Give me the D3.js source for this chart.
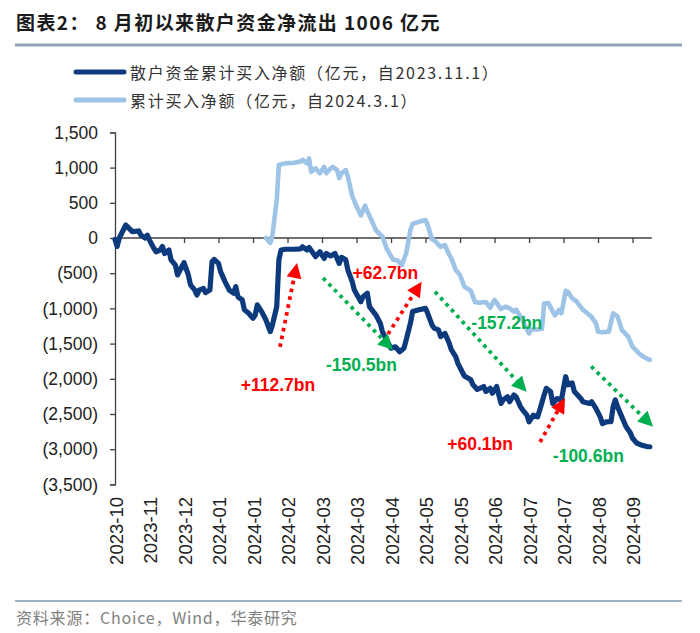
<!DOCTYPE html>
<html><head><meta charset="utf-8">
<script src="https://cdn.jsdelivr.net/npm/d3@7"></script>
<style>body{margin:0;background:#fff}svg{display:block}</style>
</head><body>
<svg id="chart" width="700" height="633"></svg>
<script>
// ---- data ----
const tickLabels = ["2023-10","2023-11","2023-12","2024-01","2024-01","2024-02","2024-03","2024-03","2024-04","2024-05","2024-05","2024-06","2024-07","2024-07","2024-08","2024-09"];
const tickStep = 16; // trading days between labels
const yTicks = [1500,1000,500,0,-500,-1000,-1500,-2000,-2500,-3000,-3500];

const darkIdx = [0,1,2,5,8,11,12,14,15,16,18,19,21,22,23,25,26,28,29,31,32,34,35,37,38,39,41,42,44,45,46,48,49,51,53,55,56,57,59,60,62,64,65,66,68,70,72,73,75,76,77,79,83,86,87,89,90,92,93,95,97,98,100,102,104,105,107,108,110,111,114,115,117,118,121,123,124,126,128,130,132,134,135,137,138,141,144,145,147,148,150,151,153,155,156,158,159,162,165,166,168,171,172,174,175,177,179,180,182,183,185,186,188,189,191,192,194,196,197,199,200,202,203,205,207,209,210,212,213,216,217,220,221,223,225,226,228,230,231,232,233,235,237,239,240,242,244,247,248];
const darkVal = [-20,-120,0,185,90,100,40,0,40,-30,-145,-195,-170,-120,-220,-170,-310,-385,-525,-405,-350,-525,-665,-740,-810,-740,-715,-775,-740,-335,-305,-360,-480,-620,-740,-785,-690,-835,-880,-1020,-1070,-1140,-1095,-950,-1045,-1165,-1330,-1235,-975,-310,-170,-160,-160,-155,-125,-170,-135,-220,-265,-195,-290,-220,-255,-220,-360,-275,-310,-455,-620,-740,-905,-835,-785,-975,-1095,-1210,-1330,-1450,-1565,-1545,-1615,-1565,-1450,-1210,-1045,-1020,-1000,-1070,-1235,-1280,-1305,-1400,-1355,-1495,-1590,-1685,-1780,-1960,-2015,-2085,-2150,-2110,-2180,-2135,-2205,-2110,-2350,-2300,-2255,-2325,-2230,-2255,-2395,-2440,-2515,-2610,-2515,-2540,-2440,-2230,-2135,-2180,-2350,-2280,-2300,-1970,-2085,-2060,-2180,-2280,-2325,-2350,-2325,-2420,-2540,-2635,-2610,-2610,-2395,-2300,-2395,-2540,-2680,-2770,-2845,-2915,-2940,-2965,-2965];

const lightIdx = [70,72,73,75,76,79,83,86,87,89,90,91,93,95,97,98,100,101,103,104,105,107,108,110,112,114,116,117,119,121,124,126,129,131,133,135,137,138,141,144,145,147,148,151,153,155,156,158,160,162,165,167,169,172,174,176,179,181,183,185,186,189,190,192,193,196,198,199,201,203,204,206,207,209,210,212,214,217,219,221,223,224,226,229,231,233,235,238,240,243,245,247,248];
const lightVal = [0,-70,40,540,1040,1060,1070,1085,1110,1060,1130,940,990,920,1010,920,990,1010,965,850,920,965,870,600,450,320,460,380,250,110,20,-150,-310,-320,-385,-220,115,200,230,255,185,-20,-30,-125,-100,-240,-290,-455,-525,-690,-750,-910,-920,-910,-990,-880,-1010,-975,-1000,-1045,-1020,-1160,-1235,-1355,-1300,-1300,-1290,-930,-925,-1045,-1100,-1020,-1070,-750,-765,-855,-900,-1020,-1070,-1120,-1210,-1330,-1340,-1330,-1070,-1110,-1305,-1400,-1545,-1640,-1685,-1720,-1730];

const seriesNames = ["散户资金累计买入净额（亿元，自2023.11.1）","累计买入净额（亿元，自2024.3.1）"];

// annotations in data space: [fromIdx, fromVal, toIdx, toVal]
const upArrows = [[76.5,-1548,84.4,-355],[126.6,-1363,142.2,-620],[197.1,-2897,208.7,-2272]];
const downArrows = [[96.5,-568,128.9,-1590],[148.4,-763,190.9,-2183],[220.8,-1825,249.5,-2680]];
const upLabels = [["+112.7bn",75.6,-2087],["+62.7bn",125.4,-501],["+60.1bn",169.3,-2925]];
const downLabels = [["-150.5bn",114.3,-1803],["-157.2bn",181.7,-1203],["-100.6bn",219.5,-3096]];

const title = "图表2：  8 月初以来散户资金净流出 1006 亿元";
const source = "资料来源：Choice，Wind，华泰研究";

// ---- drawing ----
const svg = d3.select("#chart");
const DARK = "#0c3a7d", LIGHT = "#9dc3e6", RED = "#ff0000", GREEN = "#00b050";
const x = d3.scaleLinear().domain([0, 248]).range([115, 649.8]);
const y = d3.scaleLinear().domain([-3500, 1500]).range([484.4, 132.4]);

// title
svg.append("text").attr("x", 16).attr("y", 21).attr("dominant-baseline","central")
  .attr("font-family","'Noto Sans CJK SC', sans-serif").attr("font-weight",700)
  .attr("font-size",19).attr("letter-spacing",1.4).attr("fill","#1a1a1a").text(title);
svg.append("line").attr("x1",15).attr("x2",682).attr("y1",45).attr("y2",45)
  .attr("stroke","#8ea3b7").attr("stroke-width",3);

// legend
[[DARK,72],[LIGHT,100]].forEach(([c,yy],i)=>{
  svg.append("line").attr("x1",76).attr("x2",124).attr("y1",yy).attr("y2",yy)
    .attr("stroke",c).attr("stroke-width",5).attr("stroke-linecap","round");
  svg.append("text").attr("x",130).attr("y",yy).attr("dominant-baseline","central")
    .attr("font-family","'Noto Sans CJK SC', sans-serif").attr("font-size",16)
    .attr("letter-spacing",1.7).attr("fill","#333").text(seriesNames[i]);
});

// y axis
const yAxis = d3.axisLeft(y).tickValues(yTicks).tickSize(5).tickPadding(12)
  .tickFormat(v => v < 0 ? "(" + d3.format(",")(-v) + ")" : d3.format(",")(v));
const gy = svg.append("g").attr("transform","translate(115,0)").call(yAxis);
gy.select(".domain").attr("stroke","#404040").attr("stroke-width",1.3);
gy.selectAll(".tick line").attr("stroke","#404040").attr("stroke-width",1.3);
gy.selectAll(".tick text").attr("font-family","'Liberation Sans', Arial, sans-serif")
  .attr("font-size",17.5).attr("fill","#222");

// x axis at zero
const xt = d3.range(tickLabels.length).map(k => k * tickStep);
const xAxis = d3.axisBottom(x).tickValues(xt).tickSize(5).tickFormat("");
const gx = svg.append("g").attr("transform",`translate(0,${y(0)})`).call(xAxis);
gx.select(".domain").attr("stroke","#404040").attr("stroke-width",1.3)
  .attr("d", `M${x(0)},0H${x(248)+2}`);
gx.selectAll(".tick line").attr("stroke","#404040").attr("stroke-width",1.3);

// x labels at bottom
svg.append("g").selectAll("text").data(xt).join("text")
  .attr("transform", (d,i) => `translate(${x(d)+1},497) rotate(-90)`)
  .attr("text-anchor","end").attr("dominant-baseline","central")
  .attr("font-family","'Liberation Sans', Arial, sans-serif").attr("font-size",18.5)
  .attr("fill","#222").text((d,i)=>tickLabels[i]);

// lines
const line = d3.line().x(d=>x(d[0])).y(d=>y(d[1]));
svg.append("path").datum(lightIdx.map((v,i)=>[v,lightVal[i]]))
  .attr("d",line).attr("fill","none").attr("stroke",LIGHT).attr("stroke-width",4.6)
  .attr("stroke-linejoin","round").attr("stroke-linecap","round");
svg.append("path").datum(darkIdx.map((v,i)=>[v,darkVal[i]]))
  .attr("d",line).attr("fill","none").attr("stroke",DARK).attr("stroke-width",5.2)
  .attr("stroke-linejoin","round").attr("stroke-linecap","round");

// arrows
function arrow(a, color){
  const x1=x(a[0]), y1=y(a[1]), x2=x(a[2]), y2=y(a[3]);
  const dx=x2-x1, dy=y2-y1, L=Math.hypot(dx,dy), ux=dx/L, uy=dy/L;
  const head=15, hw=7.5;
  const bx=x2-ux*head, by=y2-uy*head;
  svg.append("line").attr("x1",x1).attr("y1",y1).attr("x2",bx).attr("y2",by)
    .attr("stroke",color).attr("stroke-width",3.8).attr("stroke-dasharray","3.6,4.4");
  svg.append("path").attr("d",`M${x2},${y2}L${bx-uy*hw},${by+ux*hw}L${bx+uy*hw},${by-ux*hw}Z`)
    .attr("fill",color);
}
upArrows.forEach(a=>arrow(a,RED));
downArrows.forEach(a=>arrow(a,GREEN));

function label(l,color){
  svg.append("text").attr("x",x(l[1])).attr("y",y(l[2])).attr("text-anchor","middle")
    .attr("dominant-baseline","central").attr("font-family","'Liberation Sans', Arial, sans-serif")
    .attr("font-weight",700).attr("font-size",17.5).attr("fill",color).text(l[0]);
}
upLabels.forEach(l=>label(l,RED));
downLabels.forEach(l=>label(l,GREEN));

// footer
svg.append("line").attr("x1",15).attr("x2",682).attr("y1",601).attr("y2",601)
  .attr("stroke","#7f9bb5").attr("stroke-width",1.5);
svg.append("text").attr("x",16).attr("y",617).attr("dominant-baseline","central")
  .attr("font-family","'Noto Sans CJK SC', sans-serif").attr("font-size",16)
  .attr("letter-spacing",0.8).attr("fill","#808080").text(source);
</script>
</body></html>
